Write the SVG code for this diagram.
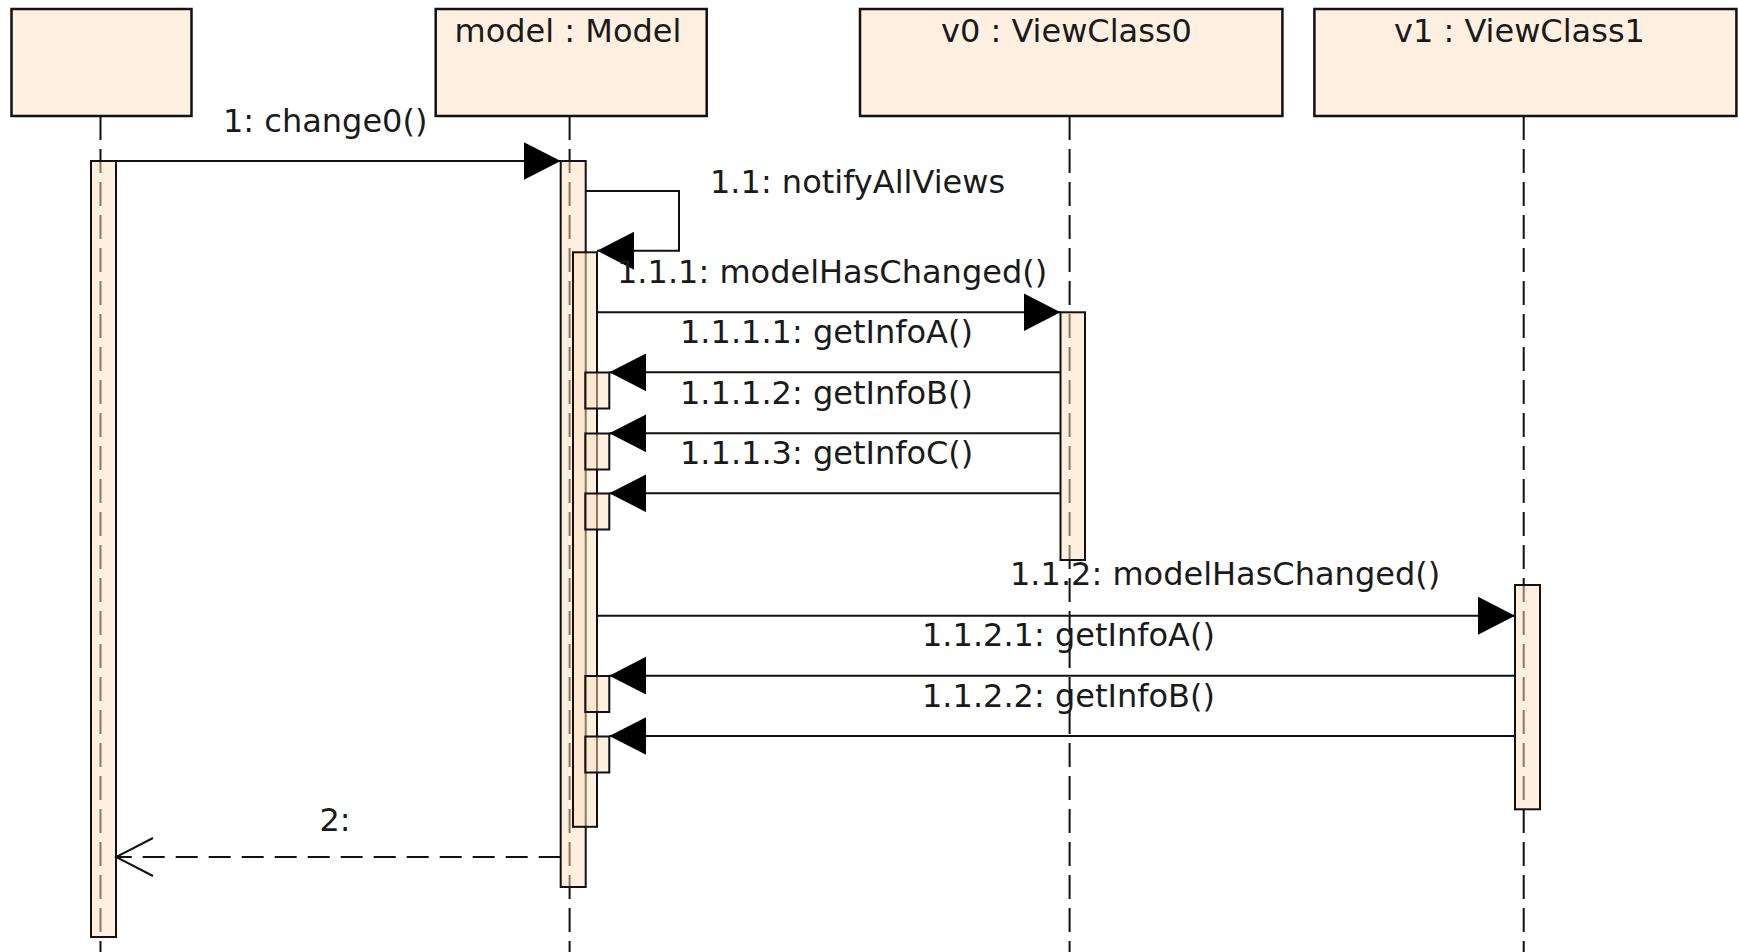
<svg xmlns="http://www.w3.org/2000/svg" width="1738" height="952" viewBox="0 0 1738 952">
  <style>
    .head { fill: #FFF0E1; stroke: #111; stroke-width: 2.5; }
    .life { stroke: #111; stroke-width: 2; stroke-dasharray: 24 9; fill: none; }
    .act { fill: #FFE0C0; fill-opacity: 0.5; stroke: #111; stroke-width: 2; }
    .msg { stroke: #111; stroke-width: 2; fill: none; }
    .ret { stroke: #111; stroke-width: 2; fill: none; stroke-dasharray: 22 11; }
    text { font-family: "DejaVu Sans", "Liberation Sans", sans-serif; font-size: 32px; fill: #1a1a1a; }
  </style>
  <defs>
    <marker id="filled" markerUnits="userSpaceOnUse" markerWidth="40" markerHeight="40" refX="37" refY="19" orient="auto">
      <path d="M0,0 L37,19 L0,38 z" fill="#000"/>
    </marker>
    <marker id="open" markerUnits="userSpaceOnUse" markerWidth="40" markerHeight="42" refX="38" refY="20" orient="auto">
      <path d="M1,1 L38,20 L1,39" fill="none" stroke="#111" stroke-width="2"/>
    </marker>
  </defs>
  <rect width="1738" height="952" fill="#fff"/>

  <g id="actor">
    <rect class="head" x="11.5" y="9" width="180" height="107"/>
    <line class="life" x1="100.5" y1="116" x2="100.5" y2="952"/>
    <rect class="act" x="91" y="161" width="25" height="776"/>
  </g>

  <g id="model">
    <rect class="head" x="435.7" y="9" width="271" height="107"/>
    <text x="454.5" y="41.7">model : Model</text>
    <line class="life" x1="569.6" y1="116" x2="569.6" y2="952"/>
    <rect class="act" x="560.7" y="161" width="25" height="726"/>
    <rect class="act" x="573" y="252.3" width="24" height="574.5"/>
    <rect class="act" x="585.3" y="372.5" width="24" height="36"/>
    <rect class="act" x="585.3" y="433.5" width="24" height="36"/>
    <rect class="act" x="585.3" y="493.5" width="24" height="36"/>
    <rect class="act" x="585.3" y="676" width="24" height="36"/>
    <rect class="act" x="585.3" y="736.5" width="24" height="36"/>
  </g>

  <g id="v0">
    <rect class="head" x="860" y="9" width="422.4" height="107"/>
    <text x="941" y="41.7">v0 : ViewClass0</text>
    <line class="life" x1="1069.6" y1="116" x2="1069.6" y2="952"/>
    <rect class="act" x="1060.5" y="312.3" width="24.5" height="247.7"/>
  </g>

  <g id="v1">
    <rect class="head" x="1314.4" y="9" width="422" height="107"/>
    <text x="1394" y="41.7">v1 : ViewClass1</text>
    <line class="life" x1="1523.7" y1="116" x2="1523.7" y2="952"/>
    <rect class="act" x="1515" y="585" width="25" height="224.3"/>
  </g>

  <g id="connectors">
    <line class="msg" x1="116" y1="161" x2="560.7" y2="161" marker-end="url(#filled)"/>
    <text x="223" y="131.7">1: change0()</text>

    <path class="msg" d="M585.7,191 H679 V250.7 H597" marker-end="url(#filled)"/>
    <text x="710" y="192.7">1.1: notifyAllViews</text>

    <line class="msg" x1="597" y1="312.3" x2="1060.5" y2="312.3" marker-end="url(#filled)"/>
    <text x="617" y="283.3">1.1.1: modelHasChanged()</text>

    <line class="msg" x1="1060.5" y1="372.3" x2="609.3" y2="372.3" marker-end="url(#filled)"/>
    <text x="680" y="343.3">1.1.1.1: getInfoA()</text>

    <line class="msg" x1="1060.5" y1="433.3" x2="609.3" y2="433.3" marker-end="url(#filled)"/>
    <text x="680" y="404.3">1.1.1.2: getInfoB()</text>

    <line class="msg" x1="1060.5" y1="493.3" x2="609.3" y2="493.3" marker-end="url(#filled)"/>
    <text x="680" y="464.3">1.1.1.3: getInfoC()</text>

    <line class="msg" x1="597" y1="615.7" x2="1515" y2="615.7" marker-end="url(#filled)"/>
    <text x="1010" y="585">1.1.2: modelHasChanged()</text>

    <line class="msg" x1="1515" y1="675.7" x2="609.3" y2="675.7" marker-end="url(#filled)"/>
    <text x="922" y="646">1.1.2.1: getInfoA()</text>

    <line class="msg" x1="1515" y1="736" x2="609.3" y2="736" marker-end="url(#filled)"/>
    <text x="922" y="706.7">1.1.2.2: getInfoB()</text>

    <line class="ret" x1="560.7" y1="857" x2="116" y2="857" marker-end="url(#open)"/>
    <text x="319.5" y="831">2:</text>
  </g>
</svg>
